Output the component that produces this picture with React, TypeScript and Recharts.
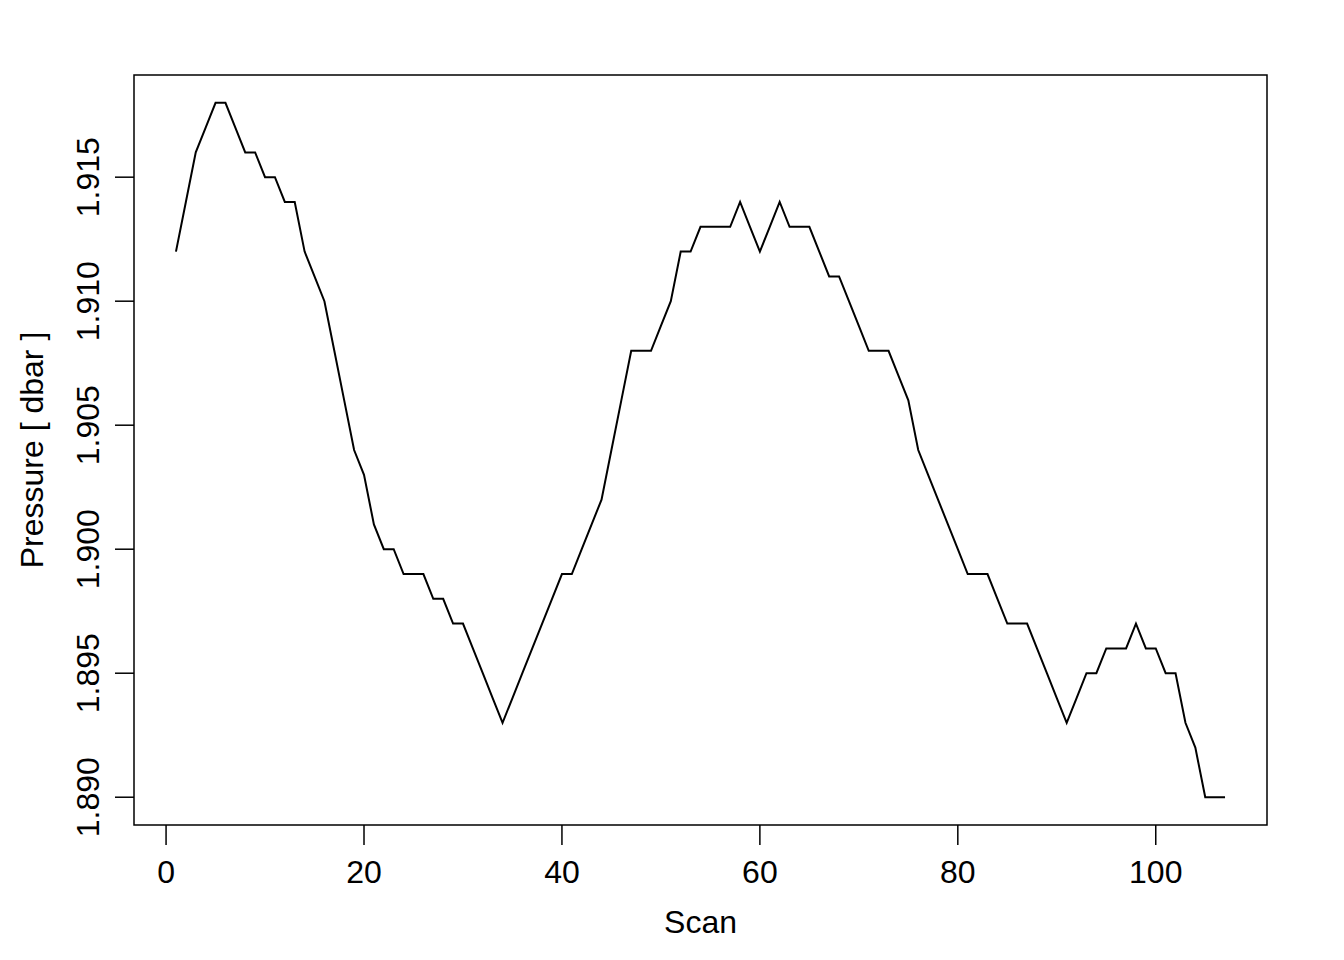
import React from 'react';
import { LineChart, Line, XAxis, YAxis, ReferenceArea } from 'recharts';

// pressure readings per scan, in dbar
const scans: number[] = Array.from({ length: 107 }, (_, i) => i + 1);
const pressure: number[] = [
  1.912, 1.914, 1.916, 1.917, 1.918, 1.918, 1.917, 1.916, 1.916, 1.915,
  1.915, 1.914, 1.914, 1.912, 1.911, 1.910, 1.908, 1.906, 1.904, 1.903,
  1.901, 1.900, 1.900, 1.899, 1.899, 1.899, 1.898, 1.898, 1.897, 1.897,
  1.896, 1.895, 1.894, 1.893, 1.894, 1.895, 1.896, 1.897, 1.898, 1.899,
  1.899, 1.900, 1.901, 1.902, 1.904, 1.906, 1.908, 1.908, 1.908, 1.909,
  1.910, 1.912, 1.912, 1.913, 1.913, 1.913, 1.913, 1.914, 1.913, 1.912,
  1.913, 1.914, 1.913, 1.913, 1.913, 1.912, 1.911, 1.911, 1.910, 1.909,
  1.908, 1.908, 1.908, 1.907, 1.906, 1.904, 1.903, 1.902, 1.901, 1.900,
  1.899, 1.899, 1.899, 1.898, 1.897, 1.897, 1.897, 1.896, 1.895, 1.894,
  1.893, 1.894, 1.895, 1.895, 1.896, 1.896, 1.896, 1.897, 1.896, 1.896,
  1.895, 1.895, 1.893, 1.892, 1.890, 1.890, 1.890,
];

const xTicks = [0, 20, 40, 60, 80, 100];
const yTicks = [1.89, 1.895, 1.9, 1.905, 1.91, 1.915];

const data = scans.map((s, i) => ({ scan: s, p: pressure[i] }));

// R-style 4% padding around the data range
const X_DOMAIN: [number, number] = [-3.24, 111.24];
const Y_DOMAIN: [number, number] = [1.88888, 1.91912];

const FONT = '"Liberation Sans", Arial, Helvetica, sans-serif';
const FS = 32;

const YTick = (props: any) => {
  const { y, payload } = props;
  const x = 99;
  return (
    <text
      x={x}
      y={y}
      transform={`rotate(-90, ${x}, ${y})`}
      textAnchor="middle"
      fontFamily={FONT}
      fontSize={FS}
      fill="#000"
    >
      {payload.value.toFixed(3)}
    </text>
  );
};

const XTick = (props: any) => {
  const { x, payload } = props;
  return (
    <text x={x} y={883} textAnchor="middle" fontFamily={FONT} fontSize={FS} fill="#000">
      {payload.value}
    </text>
  );
};

export default function App() {
  return (
    <div style={{ position: 'absolute', left: 0, top: 0, background: '#fff' }}>
      <LineChart
        width={1344}
        height={960}
        data={data}
        margin={{ top: 75, right: 77, bottom: 0, left: 0 }}
      >
        <XAxis
          dataKey="scan"
          type="number"
          domain={X_DOMAIN}
          ticks={xTicks}
          allowDataOverflow
          height={135}
          axisLine={false}
          tickSize={20}
          tickLine={{ stroke: '#000', strokeWidth: 1.5 }}
          tick={<XTick />}
          label={{
            content: (p: any) => {
              const vb = p.viewBox;
              return (
                <text x={vb.x + vb.width / 2} y={933} textAnchor="middle" fontFamily={FONT} fontSize={FS} fill="#000">
                  Scan
                </text>
              );
            },
          }}
        />
        <YAxis
          type="number"
          domain={Y_DOMAIN}
          ticks={yTicks}
          allowDataOverflow
          width={134}
          axisLine={false}
          tickSize={19}
          tickLine={{ stroke: '#000', strokeWidth: 1.5 }}
          tick={<YTick />}
          label={{
            content: (p: any) => {
              const vb = p.viewBox;
              const cy = vb.y + vb.height / 2;
              return (
                <text
                  x={43}
                  y={cy}
                  transform={`rotate(-90, 43, ${cy})`}
                  textAnchor="middle"
                  fontFamily={FONT}
                  fontSize={FS}
                  fill="#000"
                >
                  Pressure [ dbar ]
                </text>
              );
            },
          }}
        />
        <ReferenceArea
          x1={X_DOMAIN[0]}
          x2={X_DOMAIN[1]}
          y1={Y_DOMAIN[0]}
          y2={Y_DOMAIN[1]}
          fill="none"
          stroke="#000"
          strokeWidth={1.5}
          ifOverflow="visible"
        />
        <Line
          dataKey="p"
          type="linear"
          stroke="#000"
          strokeWidth={2}
          dot={false}
          activeDot={false}
          isAnimationActive={false}
        />
      </LineChart>
    </div>
  );
}
